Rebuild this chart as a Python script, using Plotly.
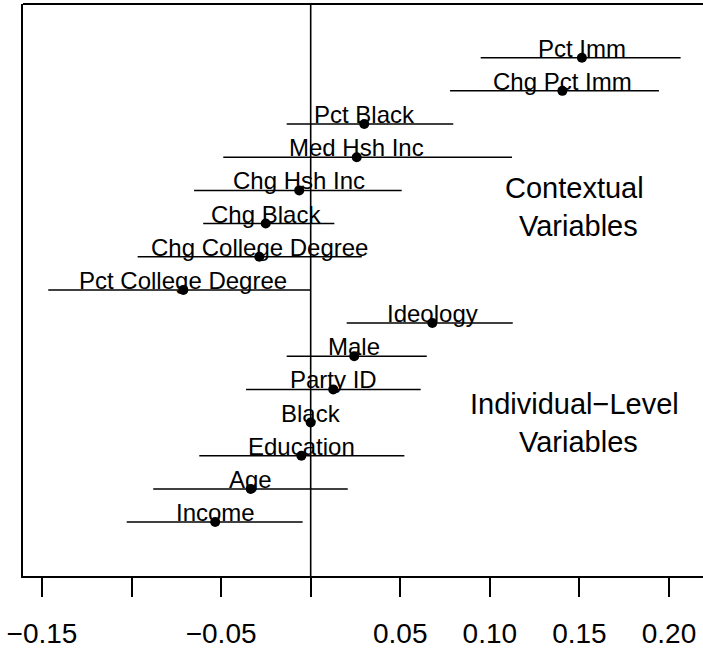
import plotly.graph_objects as go

variables = ["Pct Imm", "Chg Pct Imm", "Pct Black", "Med Hsh Inc", "Chg Hsh Inc",
             "Chg Black", "Chg College Degree", "Pct College Degree",
             "Ideology", "Male", "Party ID", "Black", "Education", "Age", "Income"]
estimates = [0.1514, 0.1405, 0.0299, 0.0257, -0.0064, -0.0251, -0.0287, -0.0711,
             0.0679, 0.0243, 0.0126, 0.0000, -0.0052, -0.0335, -0.0533]
lower = [0.0949, 0.0778, -0.0134, -0.0488, -0.0651, -0.0600, -0.0966, -0.1465,
         0.0201, -0.0134, -0.0361, -0.0010, -0.0622, -0.0879, -0.1027]
upper = [0.2065, 0.1944, 0.0796, 0.1124, 0.0508, 0.0132, 0.0285, -0.0004,
         0.1128, 0.0648, 0.0614, 0.0010, 0.0523, 0.0207, -0.0045]
positions = list(range(1, len(variables) + 1))

tick_vals = [-0.15, -0.10, -0.05, 0.00, 0.05, 0.10, 0.15, 0.20]
tick_text = ["\u22120.15", "", "\u22120.05", "", "0.05", "0.10", "0.15", "0.20"]

group_labels = ["Contextual<br>\u00a0Variables", "Individual\u2212Level<br>\u00a0Variables"]
group_x = [0.1475, 0.1475]
group_y = [5.5, 12.0]

FONT = "Liberation Sans, Arial, sans-serif"

fig = go.Figure()

# CI lines
for v, lo, hi, p in zip(variables, lower, upper, positions):
    fig.add_trace(go.Scatter(x=[lo, hi], y=[p, p], mode="lines",
                             line=dict(color="black", width=1.5),
                             showlegend=False, hoverinfo="skip"))

# points
fig.add_trace(go.Scatter(x=estimates, y=positions, mode="markers",
                         marker=dict(color="black", size=10),
                         showlegend=False, text=variables))

# zero line
fig.add_vline(x=0, line=dict(color="black", width=1.6))

# labels above points
for v, e, p in zip(variables, estimates, positions):
    fig.add_annotation(x=e, y=p, text=v, showarrow=False, xanchor="center",
                       yanchor="bottom", yshift=-6,
                       font=dict(family=FONT, size=24, color="black"))

for t, gx, gy in zip(group_labels, group_x, group_y):
    fig.add_annotation(x=gx, y=gy, text=t, showarrow=False, xanchor="center",
                       yanchor="middle", align="center",
                       font=dict(family=FONT, size=29, color="black"))

# top border of box
fig.add_shape(type="line", xref="paper", yref="paper", x0=0, x1=1, y0=1, y1=1,
              line=dict(color="black", width=2))

fig.update_xaxes(range=[-0.1606, 0.2190], tickvals=tick_vals, ticktext=tick_text,
                 ticks="outside", ticklen=19, tickwidth=1.5, tickcolor="black",
                 showline=True, linecolor="black", linewidth=2,
                 showgrid=False, zeroline=False,
                 tickfont=dict(family=FONT, size=28, color="black"),
                 ticklabelstandoff=12)
fig.update_yaxes(range=[16.626, -0.619], showticklabels=False, ticks="",
                 showline=True, linecolor="black", linewidth=2,
                 showgrid=False, zeroline=False)

fig.update_layout(width=703, height=650,
                  margin=dict(l=23, r=0, t=4, b=74),
                  plot_bgcolor="white", paper_bgcolor="white",
                  showlegend=False)

fig.write_html("out.html")
